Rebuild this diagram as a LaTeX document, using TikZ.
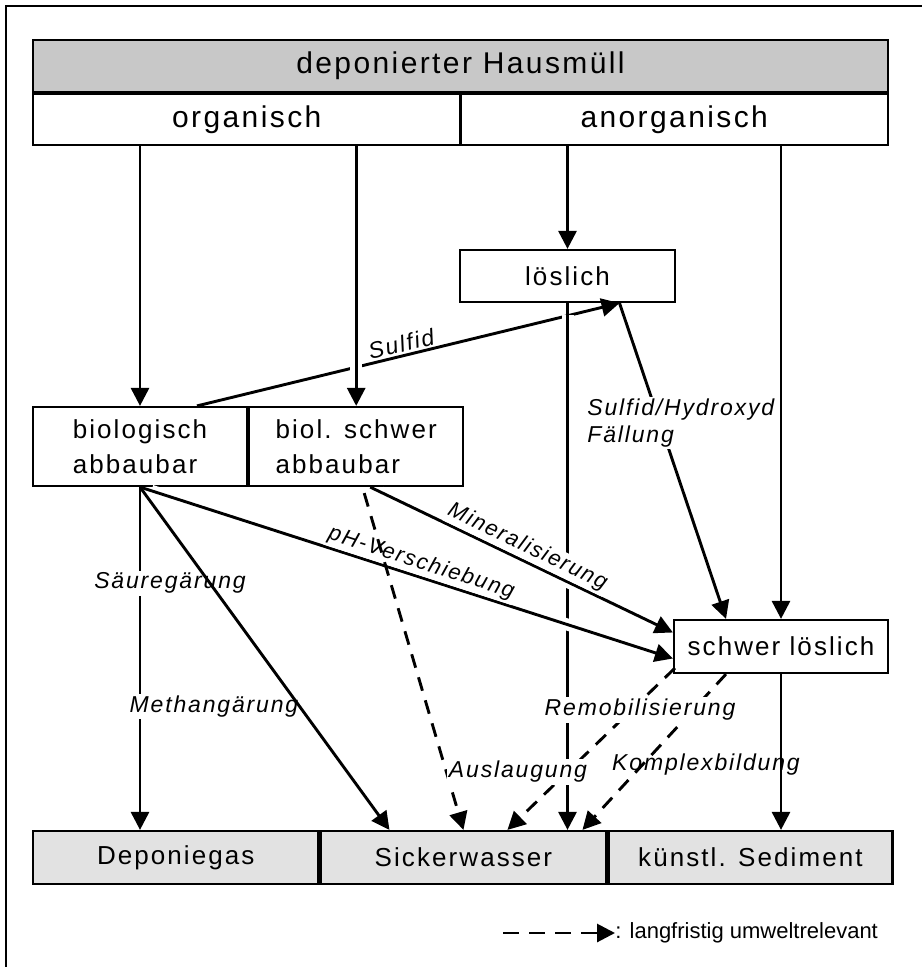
\documentclass[tikz,border=0pt]{standalone}
\usepackage{fontspec}
\setmainfont{Liberation Sans}[LetterSpace=8]
\usetikzlibrary{arrows.meta}

\definecolor{topgray}{RGB}{200,200,200}
\definecolor{botgray}{RGB}{226,226,226}

\tikzset{
  box/.style={draw,line width=1.1pt,inner sep=0pt,minimum height=25.5pt,font=\fontsize{13}{17.5}\selectfont},
  arr/.style={line width=1.45pt,-{Triangle[length=9pt,width=9pt]}},
  darr/.style={arr,dash pattern=on 7pt off 5pt},
  lab/.style={font=\fontsize{11.5}{13.5}\selectfont\itshape,inner sep=1pt},
  halo/.style={preaction={draw=white,line width=6pt,-,shorten <=6pt,shorten >=6pt}}
}

\begin{document}
\begin{tikzpicture}[x=0.5pt,y=-0.5pt]
%\draw[step=50,gray,very thin] (0,0) grid (922,967); %help grid
\useasboundingbox (0,0) rectangle (922,967);
\draw[line width=1pt] (6,967) -- (6,6) -- (922,6);

% top rows
\node[box,fill=topgray,minimum width=427.5pt,minimum height=26pt,font=\fontsize{15}{18}\selectfont] (haus) at (460.5,66) {deponierter Hausmüll};
\node[box,minimum width=213.75pt,font=\fontsize{15}{18}\selectfont,anchor=north west] (org) at (haus.south west) {organisch};
\node[box,minimum width=213.75pt,font=\fontsize{15}{18}\selectfont,anchor=north east] (anorg) at (haus.south east) {anorganisch};

% middle boxes
\node[box,minimum width=107.5pt,minimum height=26pt] (loes) at (567.5,276) {löslich};
\node[box,minimum width=107pt,minimum height=39.5pt,align=left] (bio) at (140,446.5) {biologisch\\abbaubar};
\node[box,minimum width=107pt,minimum height=39.5pt,align=left,anchor=west] (bioschwer) at (bio.east) {biol. schwer\\abbaubar};
\node[box,minimum width=107pt,minimum height=26.5pt] (schwerl) at (781,646.5) {schwer löslich};

% bottom row
\node[box,fill=botgray,minimum width=142.75pt,minimum height=26.5pt] (gas) at (175.75,857.5) {Deponiegas};
\node[box,fill=botgray,minimum width=142.75pt,minimum height=26.5pt,anchor=west] (sicker) at (gas.east) {Sickerwasser};
\node[box,fill=botgray,minimum width=142pt,minimum height=26.5pt,anchor=west] (sediment) at (sicker.east) {künstl. Sediment};

% loeslich
\coordinate (sulf) at ([xshift=26pt]loes.south);
\draw[arr] ([xshift=28.5pt]bio.north) -- node[lab,sloped,above,pos=0.49] (sulfid) {Sulfid} (sulf);

% from top rows
\draw[arr] (bio |- org.south) -- (bio.north);
\draw[arr,halo] (bioschwer |- org.south) -- (bioschwer.north);
\draw[arr] (loes |- anorg.south) -- (loes.north);
\draw[arr] (schwerl |- anorg.south) -- (schwerl.north);

\draw[arr,halo] (loes.south) -- (loes.south |- sicker.north);
\draw[arr] (sulf) -- ([xshift=-27.5pt]schwerl.north);
\node[lab,fill=white,align=left,anchor=west] (faell) at (585,423) {Sulfid/Hydroxyd\\Fällung};

% biologisch abbaubar
\draw[arr] (bio.south) -- node[lab,fill=white,pos=0.28,xshift=15pt] (saeure) {Säuregärung}
  node[lab,fill=white,pos=0.64,xshift=37pt] (methan) {Methangärung} (bio.south |- gas.north);
\draw[arr] (bio.south) -- ([xshift=-37pt]sicker.north);
\draw[arr,halo] (bio.south) -- node[lab,fill=white,sloped,above,pos=0.52,font=\fontsize{11}{13}\selectfont\itshape] (ph) {pH-Verschiebung} ([yshift=-6pt]schwerl.west);

% biol. schwer abbaubar
\draw[arr,halo] ([xshift=7pt]bioschwer.south) -- node[lab,fill=white,sloped,above,pos=0.5,font=\fontsize{11}{13}\selectfont\itshape] (miner) {Mineralisierung} ([yshift=7pt]schwerl.west);
\draw[darr] ([xshift=4pt,yshift=-3pt]bioschwer.south) -- (sicker.north);

% schwer loeslich
\draw[darr] ([xshift=1pt,yshift=3pt]schwerl.south west) -- ([xshift=22pt]sicker.north);
\draw[darr] ([xshift=-27.5pt]schwerl.south) -- ([xshift=59.5pt]sicker.north);
\draw[arr] (schwerl.south) -- (schwerl.south |- sediment.north);
\node[lab,fill=white] (remob) at (640,710) {Remobilisierung};
\node[lab,fill=white] (auslaug) at (518,772) {Auslaugung};
\node[lab] (komplex) at (706,765) {Komplexbildung};

% legend
\node[font=\fontsize{11}{13}\selectfont\addfontfeature{LetterSpace=0},anchor=west,inner sep=0pt] (leg) at (615,933) {: langfristig umweltrelevant};
\coordinate (legstart) at (503,933);
\draw[darr,dash pattern=on 8pt off 5pt] (legstart) -- (leg.west);
\end{tikzpicture}
\end{document}
